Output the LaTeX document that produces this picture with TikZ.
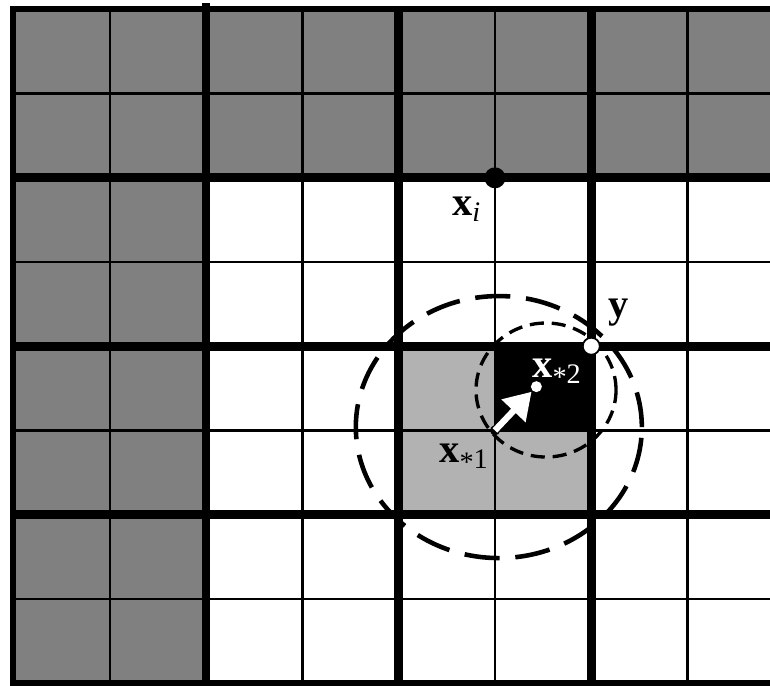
\documentclass[tikz,border=0pt]{standalone}
\usepackage{fontspec}
\setmainfont{Liberation Serif}
\usetikzlibrary{arrows.meta}

\begin{document}
\begin{tikzpicture}[x=1.926cm, y=1.684cm,
    thin grid/.style={line width=1.4pt},
    thick grid/.style={line width=5pt},
    lbl/.style={font=\fontsize{23}{27}\selectfont, inner sep=0pt, anchor=base west},
    big circ/.style={line width=2.6pt, dash pattern=on 20pt off 9pt},
    small circ/.style={line width=1.9pt, dash pattern=on 8pt off 4.5pt}]

    \useasboundingbox (-0.140,-0.024) rectangle (7.856,8.112);

    % Filled cells
    \fill[black!50] (0,6) rectangle (7.856,8);
    \fill[black!50] (0,0) rectangle (2,6);
    \fill[black!30] (4,2) rectangle (6,4);
    \fill[black] (5,3) rectangle (6,4);

    % Grid lines
    \foreach \x in {1,3,5,7} {
        \draw[thin grid] (\x,0) -- (\x,8);
    }
    \foreach \y in {1,3,5,7} {
        \draw[thin grid] (0,\y) -- (7.856,\y);
    }
    \foreach \x in {4,6} {
        \draw[thick grid] (\x,0) -- (\x,8);
    }
    \draw[thick grid] (2,0) -- (2,8.076);
    \foreach \y in {2,4,6} {
        \draw[thick grid] (0,\y) -- (7.856,\y);
    }

    % Border
    \draw[line width=3.4pt] (7.856,8) -- (0,8) -- (0,0) -- (7.856,0);

    % Points
    \coordinate (xi) at (5,6);
    \coordinate (yy) at (6,4);
    \coordinate (xs1) at (5,3);
    \coordinate (xs2) at (5.43,3.52);
    \coordinate (bigc) at (5.04,3.04);
    \coordinate (smallc) at (5.53,3.48);

    % Circles
    \draw[big circ] (bigc) ellipse [x radius=2.86cm, y radius=2.62cm];
    \draw[small circ] (smallc) ellipse [x radius=1.40cm, y radius=1.34cm];

    % Arrow from x*1 to x*2
    \fill (xs1) circle (0.1cm);
    \draw[line width=5pt, -{Triangle[length=18pt, width=22pt]}, shorten >=0.08cm] (xs1) -- (xs2);
    \draw[white, line width=3.6pt, -{Triangle[length=15pt, width=18pt]}, shorten >=0.14cm] (xs1) -- (xs2);
    \fill[white] (xs2) circle (0.11cm);

    \fill (xi) circle (0.21cm);
    \draw[line width=1pt, fill=white] (yy) circle (0.17cm);

    % Labels
    \node[lbl] (lxi) at (4.553,5.558) {\textbf{x}\textsubscript{\textit{i}}};
    \node[lbl] (ly) at (6.173,4.347) {\textbf{y}};
    \node[lbl] (lxs1) at (4.419,2.625) {\textbf{x}\textsubscript{\raisebox{-0.25ex}{*}1}};
    \node[lbl, white] (lxs2) at (5.384,3.634) {\textbf{x}\textsubscript{\raisebox{-0.25ex}{*}2}};
\end{tikzpicture}
\end{document}
